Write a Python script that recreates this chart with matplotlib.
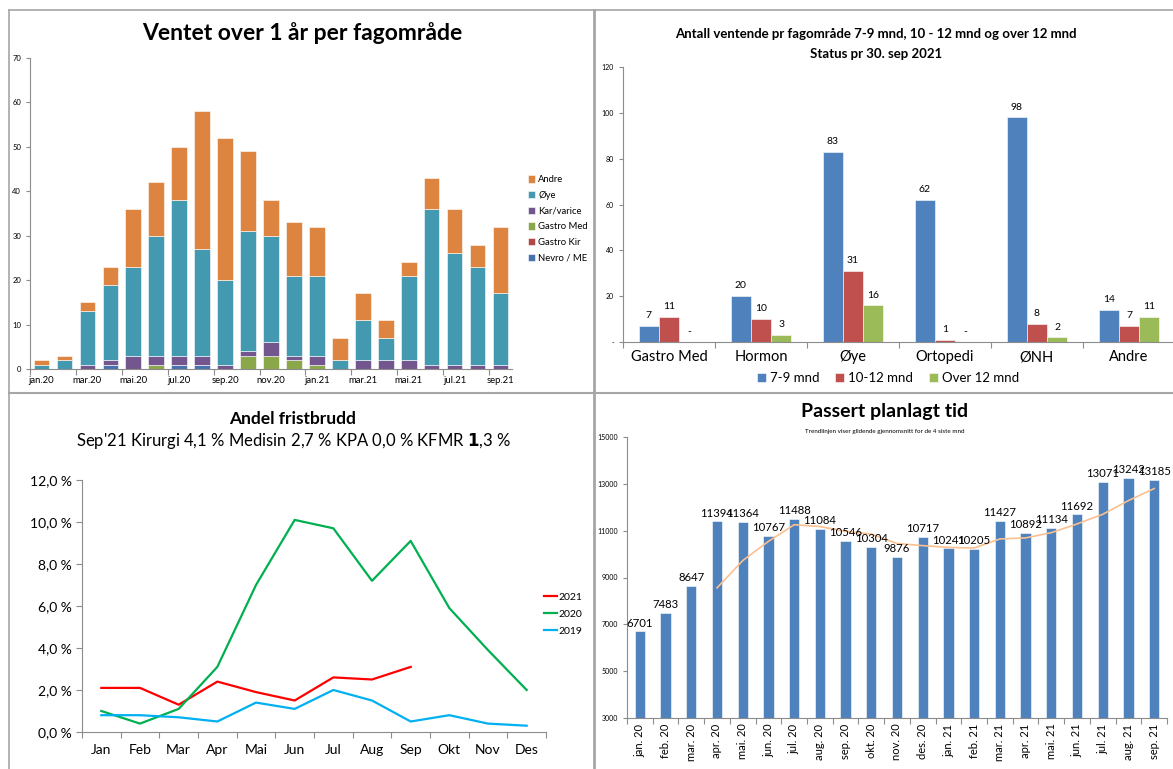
import matplotlib

matplotlib.use("Agg")
import matplotlib.pyplot as plt
import numpy as np
import pandas as pd
from matplotlib.lines import Line2D
from matplotlib.ticker import FuncFormatter

plt.rcParams["font.family"] = ["Lato", "DejaVu Sans"]

W, H = 1173, 769

# --- Ventet over 1 år per fagområde ---
months_a = ["jan.20", "feb.20", "mar.20", "apr.20", "mai.20", "jun.20", "jul.20",
            "aug.20", "sep.20", "okt.20", "nov.20", "des.20", "jan.21", "feb.21",
            "mar.21", "apr.21", "mai.21", "jun.21", "jul.21", "aug.21", "sep.21"]
nevro = [0, 0, 0, 1, 0, 0, 1, 1, 0, 0, 0, 0, 0, 0, 0, 0, 0, 0, 0, 0, 0]
gastro_kir = [0] * 21
gastro_med = [0, 0, 0, 0, 0, 1, 0, 0, 0, 3, 3, 2, 1, 0, 0, 0, 0, 0, 0, 0, 0]
kar = [0, 0, 1, 1, 3, 2, 2, 2, 1, 1, 3, 1, 2, 0, 2, 2, 2, 1, 1, 1, 1]
oye = [1, 2, 12, 17, 20, 27, 35, 24, 19, 27, 24, 18, 18, 2, 9, 5, 19, 35, 25, 22, 16]
andre = [1, 1, 2, 4, 13, 12, 12, 31, 32, 18, 8, 12, 11, 5, 6, 4, 3, 7, 10, 5, 15]

# --- Antall ventende pr fagområde ---
fag = ["Gastro Med", "Hormon", "Øye", "Ortopedi", "ØNH", "Andre"]
mnd_7_9 = [7, 20, 83, 62, 98, 14]
mnd_10_12 = [11, 10, 31, 1, 8, 7]
mnd_over_12 = [0, 3, 16, 0, 2, 11]

# --- Andel fristbrudd ---
months_c = ["Jan", "Feb", "Mar", "Apr", "Mai", "Jun", "Jul", "Aug", "Sep", "Okt", "Nov", "Des"]
fb_2021 = [2.1, 2.1, 1.3, 2.4, 1.9, 1.5, 2.6, 2.5, 3.1]
fb_2020 = [1.0, 0.4, 1.1, 3.1, 7.0, 10.1, 9.7, 7.2, 9.1, 5.9, 3.9, 2.0]
fb_2019 = [0.8, 0.8, 0.7, 0.5, 1.4, 1.1, 2.0, 1.5, 0.5, 0.8, 0.4, 0.3]

# --- Passert planlagt tid ---
months_d = ["jan. 20", "feb. 20", "mar. 20", "apr. 20", "mai. 20", "jun. 20", "jul. 20",
            "aug. 20", "sep. 20", "okt. 20", "nov. 20", "des. 20", "jan. 21", "feb. 21",
            "mar. 21", "apr. 21", "mai. 21", "jun. 21", "jul. 21", "aug. 21", "sep. 21"]
passert = [6701, 7483, 8647, 11394, 11364, 10767, 11488, 11084, 10546, 10304, 9876,
           10717, 10241, 10205, 11427, 10892, 11134, 11692, 13071, 13242, 13185]


def px_axes(fig, x0, y0, x1, y1):
    return fig.add_axes([x0 / W, 1 - y1 / H, (x1 - x0) / W, (y1 - y0) / H])


def style_spines(ax):
    for s in ("top", "right"):
        ax.spines[s].set_visible(False)
    for s in ("left", "bottom"):
        ax.spines[s].set_color("#8c8c8c")
        ax.spines[s].set_linewidth(0.8)
    ax.tick_params(colors="#8c8c8c", labelcolor="black")


fig = plt.figure(figsize=(W / 100, H / 100), dpi=100)

# panel borders
for xs, ys, lw in [((9, 1173), (10, 10), 1.2), ((9, 9), (10, 769), 1.2),
                   ((594, 594), (10, 769), 2.0), ((9, 1173), (393, 393), 1.5)]:
    fig.add_artist(Line2D([x / W for x in xs], [1 - y / H for y in ys],
                          color="#a6a6a6", lw=lw))

# ---------- top left: stacked bars ----------
ax1 = px_axes(fig, 30, 58, 512, 369)
x = np.arange(len(months_a))
stack = [("Nevro / ME", nevro, "#4673b0"), ("Gastro Kir", gastro_kir, "#b24744"),
         ("Gastro Med", gastro_med, "#8aa74a"), ("Kar/varice", kar, "#74568f"),
         ("Øye", oye, "#4299b0"), ("Andre", andre, "#dd8540")]
bottom = np.zeros(len(x))
for name, vals, col in stack:
    ax1.bar(x, vals, 0.68, bottom=bottom, color=col, label=name,
            edgecolor="white", linewidth=0.4)
    bottom += np.asarray(vals)
ax1.set_xlim(-0.5, len(x) - 0.5)
ax1.set_ylim(0, 70)
ax1.set_yticks(range(0, 71, 10))
ax1.set_xticks(np.arange(-0.5, len(x), 2))
ax1.set_xticklabels([])
ax1.set_xticks(x[::2], minor=True)
ax1.set_xticklabels(months_a[::2], minor=True)
ax1.tick_params(axis="x", which="minor", length=0, labelsize=6.8, pad=5)
ax1.tick_params(axis="x", which="major", length=4)
ax1.tick_params(axis="y", labelsize=5.5, length=3)
style_spines(ax1)
h, l = ax1.get_legend_handles_labels()
ax1.legend(h[::-1], l[::-1], loc="upper left", bbox_to_anchor=(1.015, 0.65),
           frameon=False, fontsize=6.8, handlelength=0.8, handleheight=0.8,
           handletextpad=0.3, labelspacing=0.7)
fig.text(302 / W, 1 - 33 / H, "Ventet over 1 år per fagområde", ha="center",
         va="center", fontsize=16.5, fontweight="bold")

# ---------- top right: grouped bars ----------
ax2 = px_axes(fig, 623, 67, 1175, 342)
xg = np.arange(len(fag))
bw = 0.22
series_b = [("7-9 mnd", mnd_7_9, "#4f81bd", -bw), ("10-12 mnd", mnd_10_12, "#c0504d", 0),
            ("Over 12 mnd", mnd_over_12, "#9bbb59", bw)]
for name, vals, col, off in series_b:
    bars = ax2.bar(xg + off, vals, bw, color=col, label=name,
                   edgecolor="white", linewidth=0.4)
    for b, v in zip(bars, vals):
        ax2.text(b.get_x() + b.get_width() / 2, v + 2.5, str(v) if v else "-",
                 ha="center", va="bottom", fontsize=7.5)
ax2.set_xlim(-0.5, len(fag) - 0.5)
ax2.set_ylim(0, 120)
ax2.set_yticks(range(0, 121, 20))
ax2.yaxis.set_major_formatter(FuncFormatter(lambda v, p: "-" if v == 0 else f"{v:.0f}"))
ax2.set_xticks(np.arange(-0.5, len(fag), 1))
ax2.set_xticklabels([])
ax2.set_xticks(xg, minor=True)
ax2.set_xticklabels(fag, minor=True)
ax2.tick_params(axis="x", which="minor", length=0, labelsize=10.5, pad=6)
ax2.tick_params(axis="x", which="major", length=4)
ax2.tick_params(axis="y", labelsize=5, length=3)
style_spines(ax2)
ax2.legend(loc="upper center", bbox_to_anchor=(0.48, -0.085), ncol=3, frameon=False,
           fontsize=9.5, handlelength=0.7, handleheight=0.7, handletextpad=0.3,
           columnspacing=1.2, borderpad=0)
fig.text(876 / W, 1 - 34 / H, "Antall ventende pr fagområde 7-9 mnd, 10 - 12 mnd og over 12 mnd",
         ha="center", va="center", fontsize=9.5, fontweight="bold")
fig.text(876 / W, 1 - 54 / H, "Status pr 30. sep 2021", ha="center", va="center",
         fontsize=9.5, fontweight="bold")

# ---------- bottom left: lines ----------
ax3 = px_axes(fig, 82, 480, 546, 732)
xm = np.arange(len(months_c))
ax3.plot(xm[:len(fb_2021)], fb_2021, color="#ff0000", lw=1.6, label="2021")
ax3.plot(xm, fb_2020, color="#00b050", lw=1.6, label="2020")
ax3.plot(xm, fb_2019, color="#00b0f0", lw=1.6, label="2019")
ax3.set_xlim(-0.5, len(xm) - 0.5)
ax3.set_ylim(0, 12)
ax3.set_yticks(range(0, 13, 2))
ax3.yaxis.set_major_formatter(FuncFormatter(lambda v, p: f"{v:.1f}".replace(".", ",") + " %"))
ax3.set_xticks(np.arange(-0.5, len(xm), 1))
ax3.set_xticklabels([])
ax3.set_xticks(xm, minor=True)
ax3.set_xticklabels(months_c, minor=True)
ax3.tick_params(axis="x", which="minor", length=0, labelsize=10, pad=9)
ax3.tick_params(axis="x", which="major", length=4)
ax3.tick_params(axis="y", labelsize=10, length=4)
style_spines(ax3)
ax3.legend(loc="upper left", bbox_to_anchor=(0.985, 0.575), frameon=False, fontsize=7.5,
           handlelength=1.2, handletextpad=0.15, labelspacing=0.75, borderpad=0)
fig.text(293 / W, 1 - 419 / H, "Andel fristbrudd", ha="center", va="center",
         fontsize=12.5, fontweight="bold")
fig.text(76 / W, 1 - 441 / H,
         "Sep'21 Kirurgi 4,1 % Medisin 2,7 % KPA 0,0 % KFMR $\\mathbf{1}$,3 %",
         ha="left", va="center", fontsize=12)

# ---------- bottom right: bars + moving average ----------
ax4 = px_axes(fig, 627, 437, 1167, 718)
xd = np.arange(len(months_d))
bars = ax4.bar(xd, passert, 0.4, color="#4f81bd", edgecolor="white", linewidth=0.4)
for b, v in zip(bars, passert):
    ax4.text(b.get_x() + b.get_width() / 2, v + 120, str(v), ha="center", va="bottom",
             fontsize=8.2)
trend = pd.Series(passert).rolling(4).mean()
ax4.plot(xd, trend, color="#fac090", lw=1.2)
ax4.set_xlim(-0.5, len(xd) - 0.5)
ax4.set_ylim(3000, 15000)
ax4.set_yticks(range(3000, 15001, 2000))
ax4.set_xticks(np.arange(-0.5, len(xd), 1))
ax4.set_xticklabels([])
ax4.set_xticks(xd, minor=True)
ax4.set_xticklabels(months_d, minor=True, rotation=90)
ax4.tick_params(axis="x", which="minor", length=0, labelsize=8, pad=4)
ax4.tick_params(axis="x", which="major", length=4)
ax4.tick_params(axis="y", labelsize=5, length=3)
style_spines(ax4)
fig.text(885 / W, 1 - 412 / H, "Passert planlagt tid", ha="center", va="center",
         fontsize=14, fontweight="bold")
fig.text(885 / W, 1 - 432 / H, "Trendlinjen viser glidende gjennomsnitt for de 4 siste mnd",
         ha="center", va="center", fontsize=4.5)

fig.savefig("out.png", dpi=100)
